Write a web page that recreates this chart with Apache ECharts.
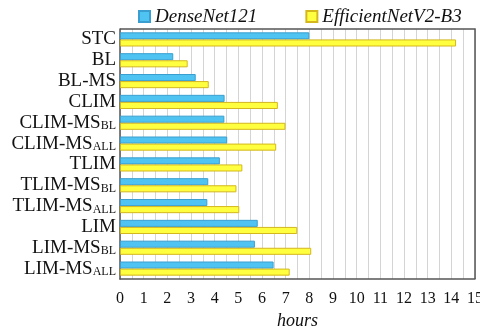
<!DOCTYPE html>
<html>
<head>
<meta charset="utf-8">
<script src="https://cdn.jsdelivr.net/npm/echarts@6/dist/echarts.min.js"></script>
<style>
  html, body { margin: 0; padding: 0; background: #fff; }
  #chart { width: 480px; height: 327px; }
</style>
</head>
<body>
<div id="chart"></div>
<script>
// Training time per method; "_" marks the start of a subscript in the label.
const categories = ['STC', 'BL', 'BL-MS', 'CLIM', 'CLIM-MS_BL', 'CLIM-MS_ALL',
  'TLIM', 'TLIM-MS_BL', 'TLIM-MS_ALL', 'LIM', 'LIM-MS_BL', 'LIM-MS_ALL'];
const seriesNames = ['DenseNet121', 'EfficientNetV2-B3'];
const denseNetHours = [8.0, 2.25, 3.2, 4.42, 4.41, 4.53, 4.22, 3.73, 3.69, 5.82, 5.70, 6.49];
const efficientNetHours = [14.2, 2.86, 3.75, 6.67, 6.99, 6.6, 5.17, 4.92, 5.04, 7.49, 8.08, 7.17];
const xTicks = [0, 15, 1]; // min, max, labelled step

const serif = '"Liberation Serif", "Times New Roman", serif';

function methodLabel(name) {
  const i = name.indexOf('_');
  if (i < 0) return '{m|' + name + '}';
  return '{m|' + name.slice(0, i) + '}{s|' + name.slice(i + 1) + '}';
}

const chart = echarts.init(document.getElementById('chart'), null, { renderer: 'canvas' });
chart.setOption({
  animation: false,
  backgroundColor: '#ffffff',
  legend: {
    left: 133,
    top: 2,
    icon: 'rect',
    itemWidth: 11,
    itemHeight: 11,
    itemGap: 48,
    textStyle: { fontFamily: serif, fontStyle: 'italic', fontSize: 19, color: '#111' },
    data: seriesNames
  },
  grid: { left: 120, right: 5, top: 29, bottom: 48, containLabel: false, outerBoundsMode: 'none' },
  xAxis: {
    type: 'value',
    min: xTicks[0],
    max: xTicks[1],
    interval: 0.5,
    name: 'hours',
    nameLocation: 'middle',
    nameGap: 27,
    nameTextStyle: { fontFamily: serif, fontStyle: 'italic', fontSize: 18, color: '#111' },
    axisLine: { show: true, lineStyle: { color: '#555', width: 1.5 } },
    axisTick: { show: false },
    axisLabel: {
      margin: 12,
      fontFamily: serif,
      fontSize: 16,
      color: '#111',
      showMaxLabel: true,
      formatter: v => (Math.abs(v % xTicks[2]) < 1e-9 ? String(v) : '')
    },
    splitLine: { show: true, lineStyle: { color: '#d4d4d4', width: 1 } }
  },
  yAxis: {
    type: 'category',
    inverse: true,
    data: categories,
    axisLine: { show: true, lineStyle: { color: '#555', width: 1.5 } },
    axisTick: { show: false },
    axisLabel: {
      margin: 4,
      color: '#111',
      formatter: methodLabel,
      rich: {
        m: { fontFamily: serif, fontSize: 19, lineHeight: 19, color: '#111' },
        s: { fontFamily: serif, fontSize: 12, lineHeight: 12, verticalAlign: 'bottom', color: '#111' }
      }
    }
  },
  series: [
    {
      name: seriesNames[0],
      type: 'bar',
      data: denseNetHours,
      barGap: '0%',
      barCategoryGap: '32%',
      itemStyle: { color: '#4fc3f1', borderColor: '#3a9fd0', borderWidth: 1 }
    },
    {
      name: seriesNames[1],
      type: 'bar',
      data: efficientNetHours,
      barGap: '0%',
      barCategoryGap: '32%',
      itemStyle: { color: '#ffff3f', borderColor: '#d4b71c', borderWidth: 1 }
    }
  ],
  graphic: [
    {
      // top and right edges of the plot frame
      type: 'polyline',
      shape: { points: [[120, 29], [475, 29], [475, 279]] },
      style: { stroke: '#555', lineWidth: 1.5, fill: null },
      silent: true,
      z: 10
    }
  ]
});
</script>
</body>
</html>
